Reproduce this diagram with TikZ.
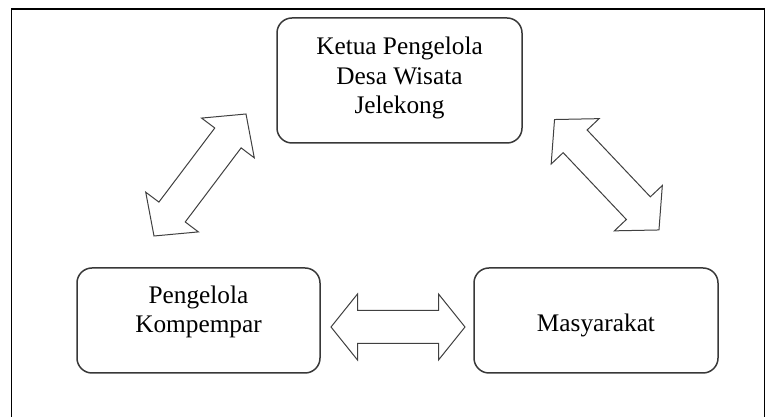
\documentclass[tikz,border=0pt]{standalone}
\usepackage{fontspec}
\setmainfont{Liberation Serif}
\begin{document}
\begin{tikzpicture}[x=1pt,y=1pt,
  frameline/.style={draw=black,line width=1.6pt},
  boxnode/.style={draw=black!78,line width=1.5pt,rounded corners=15pt,fill=none,inner sep=0pt},
  lbl/.style={align=center,inner sep=0pt,font=\fontsize{25.3}{29.5}\selectfont,text=black},
  arrowline/.style={draw=black!75,line width=1pt,line join=miter},
  pics/dblarrow/.style 2 args={code={
    \draw[arrowline] (-#1,0) -- (-#1+#2,33) -- (-#1+#2,16.5) -- (#1-#2,16.5) -- (#1-#2,33) -- (#1,0)
      -- (#1-#2,-33) -- (#1-#2,-16.5) -- (-#1+#2,-16.5) -- (-#1+#2,-33) -- cycle;
  }}
]
\useasboundingbox (0,0) rectangle (774,417);
\fill[white] (0,0) rectangle (774,417);
% outer frame
\coordinate (fbl) at (11.5,0);
\coordinate (ftl) at (11.5,408);
\coordinate (ftr) at (764.5,408);
\coordinate (fbr) at (764.5,0);
\draw[frameline] (fbl) -- (ftl) -- (ftr) -- (fbr);
% boxes
\node[boxnode,minimum width=245pt,minimum height=125pt] (top) at (399.5,336.5) {};
\node[boxnode,minimum width=243pt,minimum height=105pt] (left) at (198.5,96.5) {};
\node[boxnode,minimum width=244pt,minimum height=105pt] (right) at (596,96.5) {};
% labels
\node[lbl] (toptext) at (399.5,339) {Ketua Pengelola\\Desa Wisata\\Jelekong};
\node[lbl] (lefttext) at (198.5,105) {Pengelola\\Kompempar};
\node[lbl] (righttext) at (596,92) {Masyarakat};
% block arrows
\pic (arrowlt) [rotate=52.98] at (200,242) {dblarrow={76.4}{30}};
\pic (arrowrt) [rotate=-46.6] at (606.75,242.25) {dblarrow={76}{30}};
\pic (arrowlr) at (398,90) {dblarrow={67}{26.5}};
\end{tikzpicture}
\end{document}
